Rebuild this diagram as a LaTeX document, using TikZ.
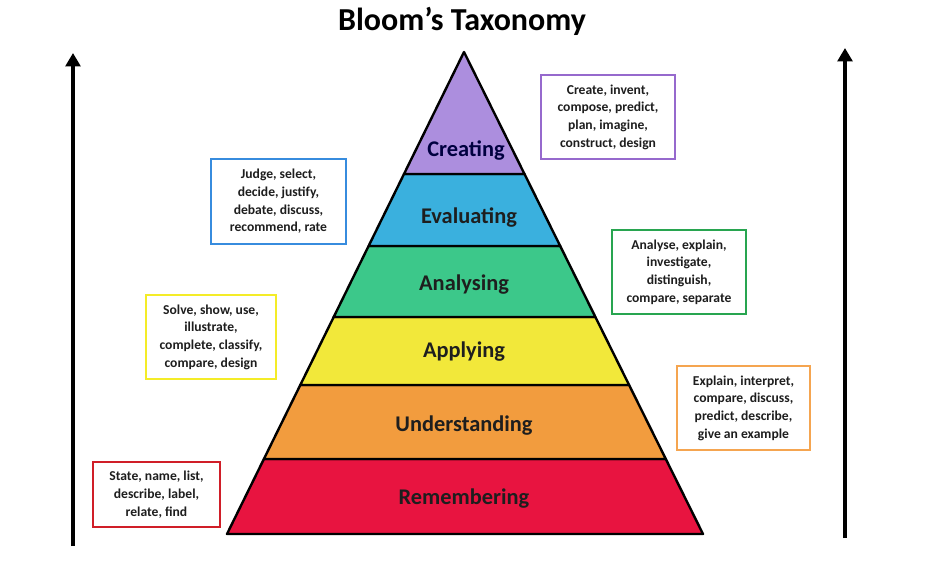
\documentclass[tikz,border=0pt]{standalone}
\usepackage{fontspec}
\setmainfont{Carlito}
\usetikzlibrary{arrows.meta}
\definecolor{cCre}{RGB}{172,142,222}
\definecolor{cEva}{RGB}{58,176,222}
\definecolor{cAna}{RGB}{60,200,138}
\definecolor{cApp}{RGB}{242,232,58}
\definecolor{cUnd}{RGB}{242,156,62}
\definecolor{cRem}{RGB}{232,20,64}
\definecolor{bCre}{RGB}{150,105,205}
\definecolor{bEva}{RGB}{55,140,222}
\definecolor{bAna}{RGB}{40,165,80}
\definecolor{bApp}{RGB}{244,236,40}
\definecolor{bUnd}{RGB}{245,165,80}
\definecolor{bRem}{RGB}{208,30,40}
\definecolor{txt}{RGB}{30,30,30}
\tikzset{
  band/.style={draw=black,line width=1.8pt,line join=round},
  lvl/.style={font=\bfseries\fontsize{16.8}{19}\selectfont,text=txt},
  verbbox/.style={draw=#1,line width=1.5pt,fill=white,align=center,
    font=\bfseries\fontsize{10.2}{13.3}\selectfont,text=txt,inner sep=0pt},
  bigarrow/.style={line width=3pt,-{Triangle[width=11pt,length=10pt]}}
}
\begin{document}
\begin{tikzpicture}[x=0.75pt,y=-0.75pt]
\useasboundingbox (0,0) rectangle (940,564);
% title
\node[font=\bfseries\fontsize{24}{28}\selectfont] (title) at (462,21) {Bloom’s Taxonomy};
% arrows
\coordinate (la0) at (73,546);
\coordinate (la1) at (73,53);
\coordinate (ra0) at (845,538);
\coordinate (ra1) at (845,48);
\draw[bigarrow] (la0) -- (la1);
\draw[bigarrow] (ra0) -- (ra1);
% pyramid bands
\filldraw[band,fill=cRem] (263.9,459) -- (665.8,459) -- (703,534) -- (227,534) -- cycle;
\filldraw[band,fill=cUnd] (300.3,385) -- (629.1,385) -- (665.8,459) -- (263.9,459) -- cycle;
\filldraw[band,fill=cApp] (333.7,317) -- (595.4,317) -- (629.1,385) -- (300.3,385) -- cycle;
\filldraw[band,fill=cAna] (368.6,246) -- (560.2,246) -- (595.4,317) -- (333.7,317) -- cycle;
\filldraw[band,fill=cEva] (404.0,174) -- (524.5,174) -- (560.2,246) -- (368.6,246) -- cycle;
\filldraw[band,fill=cCre] (464,52) -- (524.5,174) -- (404.0,174) -- cycle;
% level labels
\node[lvl,text=black!75!blue] (lcre) at (466,151) {Creating};
\node[lvl] (leva) at (469,218) {Evaluating};
\node[lvl] (lana) at (464,285) {Analysing};
\node[lvl] (lapp) at (464,352) {Applying};
\node[lvl] (lund) at (464,426) {Understanding};
\node[lvl] (lrem) at (464,499) {Remembering};
% verb boxes
\node[verbbox=bCre,minimum width=100.5pt,minimum height=63pt] (vcre) at (608,117)
  {Create, invent,\\compose, predict,\\plan, imagine,\\construct, design};
\node[verbbox=bEva,minimum width=101pt,minimum height=64pt] (veva) at (278.5,201.5)
  {Judge, select,\\decide, justify,\\debate, discuss,\\recommend, rate};
\node[verbbox=bAna,minimum width=100.5pt,minimum height=63pt] (vana) at (679,272)
  {Analyse, explain,\\investigate,\\distinguish,\\compare, separate};
\node[verbbox=bApp,minimum width=97.5pt,minimum height=63pt] (vapp) at (211,337)
  {Solve, show, use,\\illustrate,\\complete, classify,\\compare, design};
\node[verbbox=bUnd,minimum width=100pt,minimum height=63pt] (vund) at (743.5,408)
  {Explain, interpret,\\compare, discuss,\\predict, describe,\\give an example};
\node[verbbox=bRem,minimum width=95pt,minimum height=49pt] (vrem) at (156.5,494.5)
  {State, name, list,\\describe, label,\\relate, find};
\end{tikzpicture}
\end{document}
